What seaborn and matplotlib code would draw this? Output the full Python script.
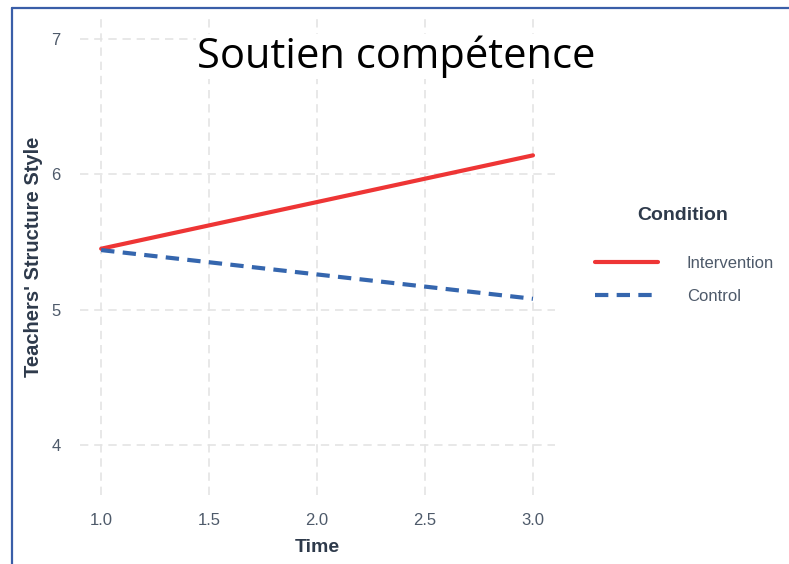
import matplotlib
matplotlib.use("Agg")
import matplotlib.pyplot as plt
import pandas as pd
import seaborn as sns
from matplotlib.lines import Line2D

# Values
times = [1.0, 3.0]
intervention = [5.45, 6.14]
control = [5.44, 5.08]
conditions = ["Intervention", "Control"]
x_ticks = [1.0, 1.5, 2.0, 2.5, 3.0]
y_ticks = [4, 5, 6, 7]

_COLORS = {"Intervention": "#EE3535", "Control": "#3566AE"}
_TEXT = "#2E3A4B"
_TICK = "#4E5A6A"
_GRID = "#E4E4E4"

df = pd.DataFrame({
    "Time": times * 2,
    "Score": intervention + control,
    "Condition": [conditions[0]] * len(times) + [conditions[1]] * len(times),
})

sns.set_theme(style="white")
plt.rcParams["font.family"] = ["Liberation Sans", "DejaVu Sans"]

fig = plt.figure(figsize=(7.89, 5.64), dpi=100)
ax = fig.add_axes([80 / 789, 1 - 495 / 564, 475 / 789, 477 / 564])

sns.lineplot(
    data=df,
    x="Time",
    y="Score",
    hue="Condition",
    style="Condition",
    hue_order=conditions,
    style_order=conditions,
    palette=_COLORS,
    dashes={"Intervention": "", "Control": (3.2, 2.0)},
    linewidth=3,
    ax=ax,
)

ax.set_xlim(0.902, 3.102)
ax.set_ylim(3.63, 7.155)
ax.set_xticks(x_ticks)
ax.set_xticklabels([f"{t:.1f}" for t in x_ticks])
ax.set_yticks(y_ticks)
ax.grid(True, color=_GRID, linestyle=(0, (5, 3.5)), linewidth=1.2)
ax.set_axisbelow(True)
for s in ax.spines.values():
    s.set_visible(False)
ax.tick_params(length=0, labelsize=12, labelcolor=_TICK)
ax.tick_params(axis="y", pad=14)
ax.tick_params(axis="x", pad=13)

ax.set_xlabel("Time", fontsize=14, fontweight="bold", color=_TEXT, labelpad=8)
ax.set_ylabel("Teachers' Structure Style", fontsize=14.5, fontweight="bold",
              color=_TEXT, labelpad=6)

sns.move_legend(
    ax,
    "center left",
    bbox_to_anchor=((595 - 80) / 475, (495 - 280) / 477),
    title=None,
    frameon=False,
    fontsize=12,
    handlelength=3.8,
    handletextpad=1.7,
    labelspacing=1.1,
    borderpad=0,
    borderaxespad=0,
)
for t in ax.get_legend().get_texts():
    t.set_color(_TICK)

fig.text(683 / 789, 1 - 216 / 564, "Condition", fontsize=14, fontweight="bold",
         color=_TEXT, ha="center", va="center")

fig.text(396 / 789, 1 - 68 / 564, "Soutien compétence", fontsize=30,
         family=["Open Sans", "DejaVu Sans"], color="black",
         ha="center", va="baseline",
         bbox=dict(facecolor="white", edgecolor="none", pad=1))

# slide frame (left and top edges)
fig.add_artist(Line2D([12 / 789, 12 / 789], [0, 1 - 8 / 564],
                      transform=fig.transFigure, color="#3A5EA8", linewidth=1.6))
fig.add_artist(Line2D([12 / 789, 1], [1 - 8 / 564, 1 - 8 / 564],
                      transform=fig.transFigure, color="#3A5EA8", linewidth=1.6))

fig.savefig("out.png", dpi=100)
